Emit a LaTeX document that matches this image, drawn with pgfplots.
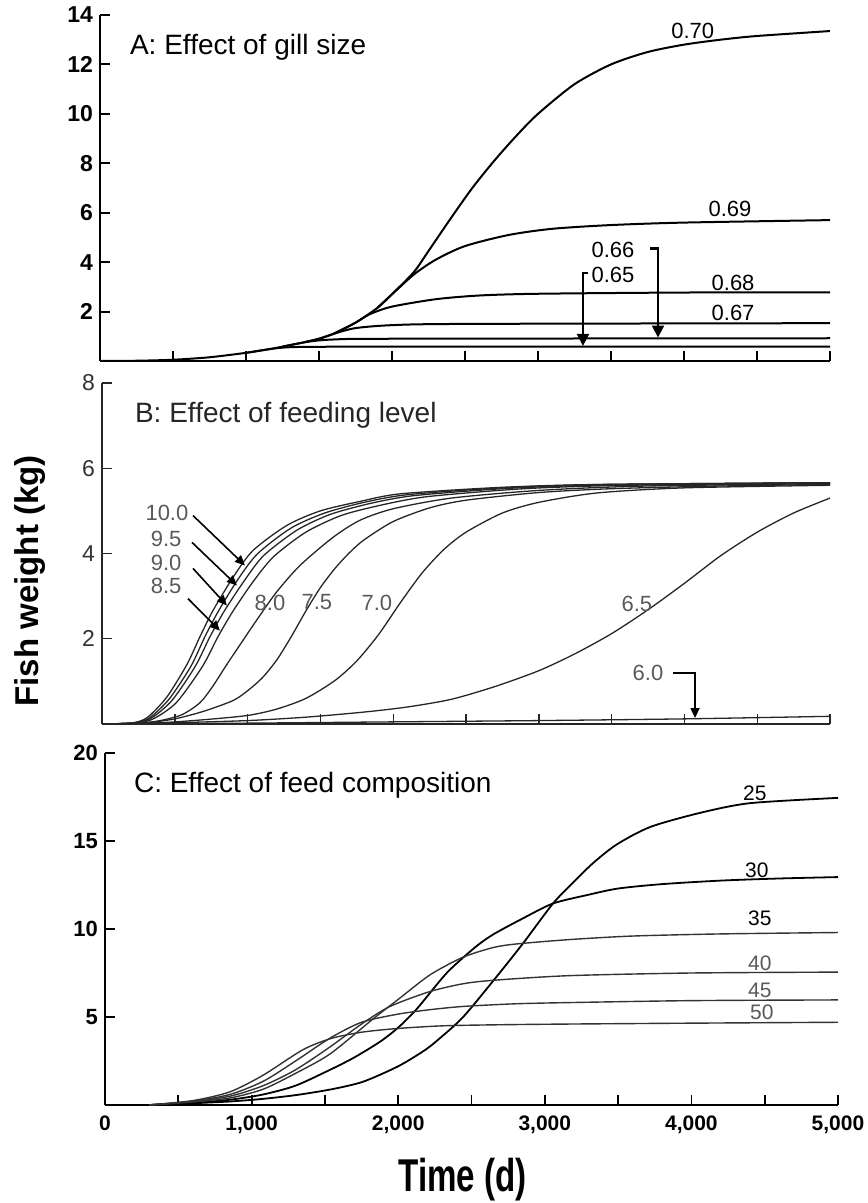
\documentclass[border=0pt]{standalone}
\usepackage{fontspec}
\setmainfont{Liberation Sans}
\usepackage{graphicx}
\usepackage{pgfplots}
\pgfplotsset{compat=1.18}
\usetikzlibrary{arrows.meta}

\pgfplotsset{
  fishpanel/.style={
    scale only axis,
    xmin=0, xmax=5000, ymin=0,
    axis x line*=bottom,
    axis y line*=left,
    xtick={0,500,...,5000},
    xticklabels={},
    tick align=inside,
    major tick length=5pt,
    clip=false,
    /pgf/number format/assume math mode=true,
  },
  gill/.style={black, line width=1pt, no marks, smooth, tension=0.45},
  feed/.style={black!85, line width=0.65pt, no marks, smooth, tension=0.45},
  comp/.style={black, line width=0.9pt, no marks, smooth, tension=0.45},
  compthin/.style={black!80, line width=0.7pt, no marks, smooth, tension=0.45},
}

\begin{document}
\begin{tikzpicture}
\useasboundingbox (0,0) rectangle (433.5pt,601.5pt);

% ---------------- A: gill size
\begin{axis}[fishpanel,
  at={(50pt,421pt)}, anchor=south west,
  width=365pt, height=173pt,
  ymax=14, ytick={2,4,...,14},
  axis line style={line width=1pt},
  tick style={line width=1pt, black},
  ticklabel style={font=\bfseries\fontsize{11.5}{12}\selectfont},
]
% 0.70
\addplot[gill] coordinates {(0,0)(250,0.01)(500,0.05)(750,0.15)(1000,0.33)(1150,0.47)(1250,0.58)(1400,0.76)(1500,0.9)(1600,1.1)(1750,1.55)(1900,2.15)(2000,2.7)(2150,3.6)(2250,4.45)(2400,5.75)(2550,7.0)(2700,8.1)(2850,9.1)(3000,10.0)(3250,11.2)(3500,12.0)(3750,12.5)(4000,12.8)(4250,13.0)(4500,13.15)(5000,13.35)};
% 0.69
\addplot[gill] coordinates {(1900,2.15)(2000,2.7)(2150,3.5)(2300,4.1)(2500,4.65)(2800,5.1)(3100,5.35)(3500,5.5)(4000,5.6)(5000,5.7)};
% 0.68
\addplot[gill] coordinates {(1600,1.1)(1750,1.55)(1850,1.9)(2000,2.2)(2300,2.5)(2600,2.65)(3000,2.72)(4000,2.77)(5000,2.78)};
% 0.67
\addplot[gill] coordinates {(1400,0.76)(1500,0.9)(1600,1.1)(1750,1.33)(2000,1.45)(2500,1.5)(5000,1.53)};
% 0.66
\addplot[gill] coordinates {(1250,0.58)(1350,0.7)(1450,0.8)(1600,0.87)(2000,0.9)(5000,0.92)};
% 0.65
\addplot[gill] coordinates {(1000,0.33)(1150,0.47)(1250,0.54)(1400,0.57)(2000,0.58)(5000,0.58)};

\node[anchor=west, font=\fontsize{14}{16}\selectfont] at (rel axis cs:0.0315,0.9075) {A: Effect of gill size};
\begin{scope}[font=\fontsize{11}{12}\selectfont]
\node at (axis cs:4060,13.35) {0.70};
\node at (axis cs:4315,6.14) {0.69};
\node at (axis cs:4336,3.17) {0.68};
\node at (axis cs:4336,1.95) {0.67};
\node at (axis cs:3514,4.5) {0.66};
\node at (axis cs:3514,3.5) {0.65};
\end{scope}
\draw[line width=1.1pt, -{Triangle[width=6pt,length=6pt]}] (axis cs:3767,4.55) -- (axis cs:3822,4.55) -- (axis cs:3822,0.95);
\draw[line width=1.1pt, -{Triangle[width=6pt,length=6pt]}] (axis cs:3345,3.55) -- (axis cs:3308,3.55) -- (axis cs:3308,0.61);
\end{axis}

% ---------------- B: feeding level
\begin{axis}[fishpanel,
  at={(51pt,239.5pt)}, anchor=south west,
  width=364pt, height=170.5pt,
  ymax=8, ytick={2,4,6,8},
  axis line style={line width=0.7pt, black!85},
  tick style={line width=0.7pt, black!85},
  ticklabel style={font=\fontsize{11.5}{12}\selectfont, black!80},
]
% 10.0
\addplot[feed] coordinates {(0,0)(200,0.02)(310,0.15)(445,0.63)(584,1.4)(673,2.05)(762,2.66)(900,3.44)(1037,4.07)(1270,4.66)(1500,5.0)(1770,5.22)(2050,5.4)(2730,5.55)(3420,5.62)(5000,5.66)};
% 9.5
\addplot[feed] coordinates {(0,0)(200,0.02)(320,0.13)(460,0.58)(610,1.35)(707,2.05)(800,2.65)(935,3.4)(1070,4.0)(1300,4.6)(1530,4.95)(1800,5.2)(2100,5.38)(2750,5.54)(3450,5.62)(5000,5.66)};
% 9.0
\addplot[feed] coordinates {(0,0)(200,0.02)(330,0.12)(480,0.55)(640,1.35)(742,2.05)(840,2.65)(975,3.35)(1110,3.95)(1340,4.55)(1570,4.92)(1850,5.18)(2150,5.36)(2800,5.53)(3500,5.61)(5000,5.66)};
% 8.5
\addplot[feed] coordinates {(0,0)(200,0.02)(340,0.1)(510,0.5)(690,1.35)(797,2.05)(900,2.65)(1040,3.35)(1180,3.93)(1400,4.5)(1650,4.9)(1950,5.16)(2250,5.34)(2900,5.52)(3600,5.6)(5000,5.65)};
% 8.0
\addplot[feed] coordinates {(0,0)(250,0.02)(400,0.08)(550,0.22)(673,0.5)(760,0.88)(858,1.4)(960,1.92)(1065,2.45)(1200,3.1)(1360,3.72)(1587,4.38)(1772,4.78)(2000,5.05)(2400,5.3)(3000,5.48)(3700,5.58)(5000,5.64)};
% 7.5
\addplot[feed] coordinates {(0,0)(300,0.03)(500,0.12)(700,0.3)(900,0.55)(1000,0.78)(1100,1.08)(1200,1.5)(1300,2.05)(1400,2.65)(1500,3.2)(1600,3.65)(1700,4.02)(1800,4.32)(2000,4.75)(2250,5.07)(2500,5.25)(3000,5.43)(3500,5.52)(4200,5.58)(5000,5.62)};
% 7.0
\addplot[feed] coordinates {(0,0)(400,0.03)(700,0.1)(1000,0.2)(1200,0.35)(1400,0.6)(1600,1.02)(1750,1.48)(1900,2.1)(2050,2.85)(2200,3.55)(2350,4.1)(2500,4.5)(2750,4.95)(3000,5.2)(3400,5.42)(4000,5.54)(5000,5.6)};
% 6.5
\addplot[feed] coordinates {(0,0)(500,0.03)(1000,0.08)(1400,0.16)(1800,0.28)(2100,0.4)(2400,0.58)(2700,0.88)(3000,1.25)(3250,1.65)(3500,2.12)(3750,2.68)(4000,3.3)(4250,3.95)(4500,4.5)(4750,4.95)(5000,5.3)};
% 6.0
\addplot[feed] coordinates {(0,0)(1000,0.02)(2000,0.05)(3000,0.08)(4000,0.12)(5000,0.18)};

\node[anchor=west, font=\fontsize{14}{16}\selectfont, black!85] at (rel axis cs:0.0357,0.906) {B: Effect of feeding level};
\begin{scope}[font=\fontsize{11}{12}\selectfont, black!65]
\node at (axis cs:446,4.94) {10.0};
\node at (axis cs:440,4.35) {9.5};
\node at (axis cs:440,3.79) {9.0};
\node at (axis cs:440,3.25) {8.5};
\node at (axis cs:1154,2.85) {8.0};
\node at (axis cs:1476,2.85) {7.5};
\node at (axis cs:1888,2.85) {7.0};
\node at (axis cs:3674,2.82) {6.5};
\node at (axis cs:3750,1.2) {6.0};
\end{scope}
\begin{scope}[line width=0.8pt, -{Triangle[width=4.5pt,length=5pt]}]
\draw (axis cs:625,4.89) -- (axis cs:982,3.72);
\draw (axis cs:618,4.26) -- (axis cs:927,3.25);
\draw (axis cs:625,3.65) -- (axis cs:858,2.78);
\draw (axis cs:591,2.94) -- (axis cs:810,2.19);
\draw (axis cs:3922,1.2) -- (axis cs:4073,1.2) -- (axis cs:4073,0.14);
\end{scope}
% y axis title for the whole figure
\node[rotate=90, font=\bfseries\fontsize{16.5}{18}\selectfont] at (rel axis cs:-0.099,0.42) {Fish weight (kg)};
\end{axis}

% ---------------- C: feed composition
\begin{axis}[fishpanel,
  at={(52.5pt,49pt)}, anchor=south west,
  width=366.5pt, height=176pt,
  ymax=20, ytick={5,10,15,20},
  xticklabels={0,,{1,000},,{2,000},,{3,000},,{4,000},,{5,000}},
  axis line style={line width=0.9pt},
  tick style={line width=0.9pt, black},
  ticklabel style={font=\bfseries\fontsize{11}{12}\selectfont},
  xticklabel style={font=\bfseries\fontsize{10.5}{12}\selectfont, yshift=-2pt},
]
% 25
\addplot[comp] coordinates {(300,0)(600,0.1)(853,0.2)(1080,0.35)(1308,0.57)(1550,0.9)(1763,1.33)(2000,2.2)(2170,3.05)(2264,3.65)(2443,5.0)(2672,7.3)(2853,9.2)(3056,11.45)(3200,12.7)(3330,13.75)(3490,14.8)(3720,15.8)(4060,16.6)(4400,17.15)(5000,17.45)};
% 30
\addplot[comp] coordinates {(300,0)(600,0.12)(853,0.3)(1080,0.6)(1300,1.1)(1535,2.0)(1700,2.7)(1877,3.6)(2000,4.4)(2126,5.45)(2331,7.5)(2523,8.95)(2650,9.7)(2850,10.6)(3056,11.45)(3300,11.95)(3500,12.3)(3800,12.55)(4200,12.75)(4600,12.87)(5000,12.95)};
% 35
\addplot[compthin] coordinates {(300,0)(600,0.17)(853,0.4)(1080,0.9)(1300,1.8)(1535,2.9)(1830,4.9)(2000,6.0)(2218,7.4)(2443,8.4)(2650,8.95)(2807,9.15)(3170,9.4)(3600,9.6)(4200,9.72)(5000,9.8)};
% 40
\addplot[compthin] coordinates {(300,0)(600,0.2)(853,0.5)(1080,1.1)(1300,2.0)(1535,3.3)(1750,4.6)(1944,5.6)(2218,6.45)(2450,6.9)(2672,7.1)(3170,7.35)(4000,7.5)(5000,7.55)};
% 45
\addplot[compthin] coordinates {(300,0)(600,0.22)(853,0.6)(1080,1.35)(1300,2.5)(1535,3.8)(1750,4.7)(1990,5.15)(2200,5.4)(2443,5.6)(2800,5.75)(3170,5.82)(4000,5.93)(5000,5.97)};
% 50
\addplot[compthin] coordinates {(300,0)(600,0.25)(853,0.75)(1080,1.7)(1352,3.15)(1550,3.8)(1763,4.15)(2000,4.35)(2309,4.5)(2700,4.56)(3170,4.6)(4000,4.65)(5000,4.7)};

\node[anchor=west, font=\fontsize{14}{16}\selectfont] at (rel axis cs:0.030,0.909) {C: Effect of feed composition};
\begin{scope}[font=\fontsize{10.5}{12}\selectfont]
\node at (axis cs:4433,17.7) {25};
\node at (axis cs:4446,13.35) {30};
\node at (axis cs:4467,10.6) {35};
\node[black!65] at (axis cs:4467,8.07) {40};
\node[black!65] at (axis cs:4467,6.53) {45};
\node[black!65] at (axis cs:4480,5.28) {50};
\end{scope}
\node[font=\bfseries\fontsize{23}{24}\selectfont, xscale=0.72] at (rel axis cs:0.488,-0.213) {Time (d)};
\end{axis}
\end{tikzpicture}
\end{document}
